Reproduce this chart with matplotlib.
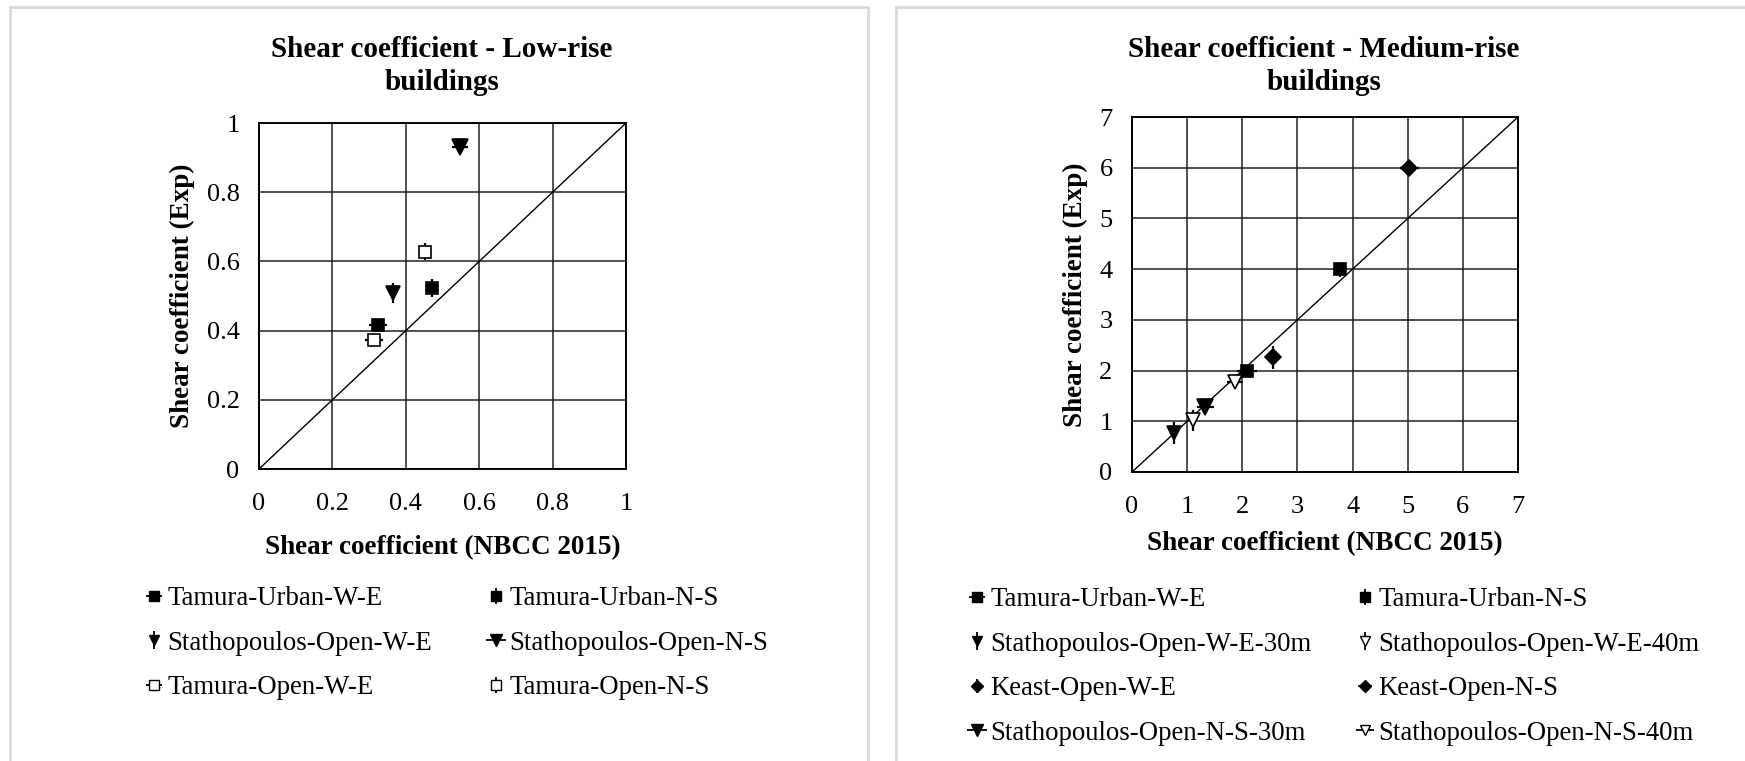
import matplotlib
matplotlib.use('Agg')
import matplotlib.pyplot as plt
from matplotlib.lines import Line2D
from matplotlib.patches import Rectangle

plt.rcParams['font.family'] = ['Liberation Serif', 'DejaVu Serif']

# low-rise panel (W-E series first, then N-S, so the 2-col legend fills like the original)
low_names = ['Tamura-Urban-W-E', 'Stathopoulos-Open-W-E', 'Tamura-Open-W-E',
             'Tamura-Urban-N-S', 'Stathopoulos-Open-N-S', 'Tamura-Open-N-S']
low_nbcc = [0.325, 0.364, 0.314, 0.471, 0.548, 0.453]
low_exp = [0.416, 0.509, 0.374, 0.522, 0.930, 0.628]
low_err = [0.025, 0.030, 0.025, 0.026, 0.022, 0.025]
low_err_dir = ['x', 'y', 'x', 'y', 'x', 'y']
low_ticks = [0, 0.2, 0.4, 0.6, 0.8, 1]

# medium-rise panel
mid_names = ['Tamura-Urban-W-E', 'Stathopoulos-Open-W-E-30m', 'Keast-Open-W-E',
             'Stathopoulos-Open-N-S-30m', 'Tamura-Urban-N-S', 'Stathopoulos-Open-W-E-40m',
             'Keast-Open-N-S', 'Stathopoulos-Open-N-S-40m']
mid_nbcc = [2.08, 0.77, 2.55, 1.33, 3.77, 1.10, 5.03, 1.87]
mid_exp = [2.00, 0.77, 2.26, 1.29, 4.00, 1.02, 6.00, 1.78]
mid_err = [0.18, 0.21, 0.22, 0.15, 0.15, 0.21, 0.175, 0.14]
mid_err_dir = ['x', 'y', 'y', 'x', 'y', 'y', 'x', 'x']
mid_ticks = [0, 1, 2, 3, 4, 5, 6, 7]

# marker, filled?, size
low_style = [('s', True, 9), ('v', True, 10), ('s', False, 9),
             ('s', True, 9), ('v', True, 11), ('s', False, 9)]
mid_style = [('s', True, 9), ('v', True, 10), ('D', True, 8), ('v', True, 11),
             ('s', True, 9), ('v', False, 10), ('D', True, 8), ('v', False, 10)]

W, H = 1745, 761
fig = plt.figure(figsize=(W / 100, H / 100), dpi=100)

# light gray frames around the two chart images
fig.patches.append(Rectangle((10 / W, -0.05), 858 / W, 1.05 - 7 / H, transform=fig.transFigure,
                             fill=False, edgecolor='#d9d9d9', lw=2))
fig.patches.append(Rectangle((896 / W, -0.05), 0.5, 1.05 - 7 / H, transform=fig.transFigure,
                             fill=False, edgecolor='#d9d9d9', lw=2))


def draw_panel(rect, names, xs, ys, errs, dirs, styles, ticks, title, title_x, leg_anchor,
               xlabelpad, colsp):
    ax = fig.add_axes(rect)
    lim = ticks[-1]
    ax.plot([0, lim], [0, lim], color='black', lw=1, zorder=2)
    handles = []
    for n, x, y, e, d, st in zip(names, xs, ys, errs, dirs, styles):
        m, filled, ms = st
        fc = 'black' if filled else 'white'
        xe = e if d == 'x' else None
        ye = e if d == 'y' else None
        ax.errorbar(x, y, xerr=xe, yerr=ye, fmt=m, ms=ms, mfc=fc, mec='black', mew=1.2,
                    ecolor='black', elinewidth=1.6, capsize=0, zorder=3)
        mk = Line2D([], [], ls='', marker=m, ms=ms * 0.75, mfc=fc, mec='black', mew=1)
        bar = Line2D([], [], ls='', marker='_' if d == 'x' else '|', ms=ms * 1.3,
                     color='black', mew=1.3)
        handles.append((bar, mk))
    ax.set_xlim(0, lim)
    ax.set_ylim(0, lim)
    ax.set_xticks(ticks)
    ax.set_yticks(ticks)
    ax.set_xticklabels(['%g' % t for t in ticks])
    ax.set_yticklabels(['%g' % t for t in ticks])
    ax.tick_params(length=0, labelsize=19)
    ax.tick_params(axis='x', pad=17)
    ax.tick_params(axis='y', pad=14)
    ax.grid(True, color='#202020', lw=1.1)
    ax.set_axisbelow(True)
    for s in ax.spines.values():
        s.set_color('black')
        s.set_linewidth(1.4)
    ax.set_xlabel('Shear coefficient (NBCC 2015)', fontsize=19.5, fontweight='bold',
                  labelpad=xlabelpad)
    ax.set_ylabel('Shear coefficient (Exp)', fontsize=19.5, fontweight='bold', labelpad=8)
    fig.text(title_x, 1 - 66 / H, title, ha='center', va='center', fontsize=21,
             fontweight='bold', linespacing=1.3)
    fig.legend(handles, names, loc='upper left', bbox_to_anchor=leg_anchor, ncol=2,
               frameon=False, fontsize=19.3, borderpad=0, handlelength=0.8,
               handletextpad=0.1, labelspacing=0.73, columnspacing=colsp,
               borderaxespad=0)
    return ax


draw_panel([259 / W, 1 - 469 / H, 367 / W, 346 / H], low_names, low_nbcc, low_exp, low_err,
           low_err_dir, low_style, low_ticks, 'Shear coefficient - Low-rise\nbuildings',
           442 / W, (143 / W, 1 - 586 / H), 15, 2.0)
draw_panel([1132 / W, 1 - 472 / H, 386 / W, 355 / H], mid_names, mid_nbcc, mid_exp, mid_err,
           mid_err_dir, mid_style, mid_ticks, 'Shear coefficient - Medium-rise\nbuildings',
           1324 / W, (966 / W, 1 - 587 / H), 10, 1.6)

fig.savefig('out.png', dpi=100)
